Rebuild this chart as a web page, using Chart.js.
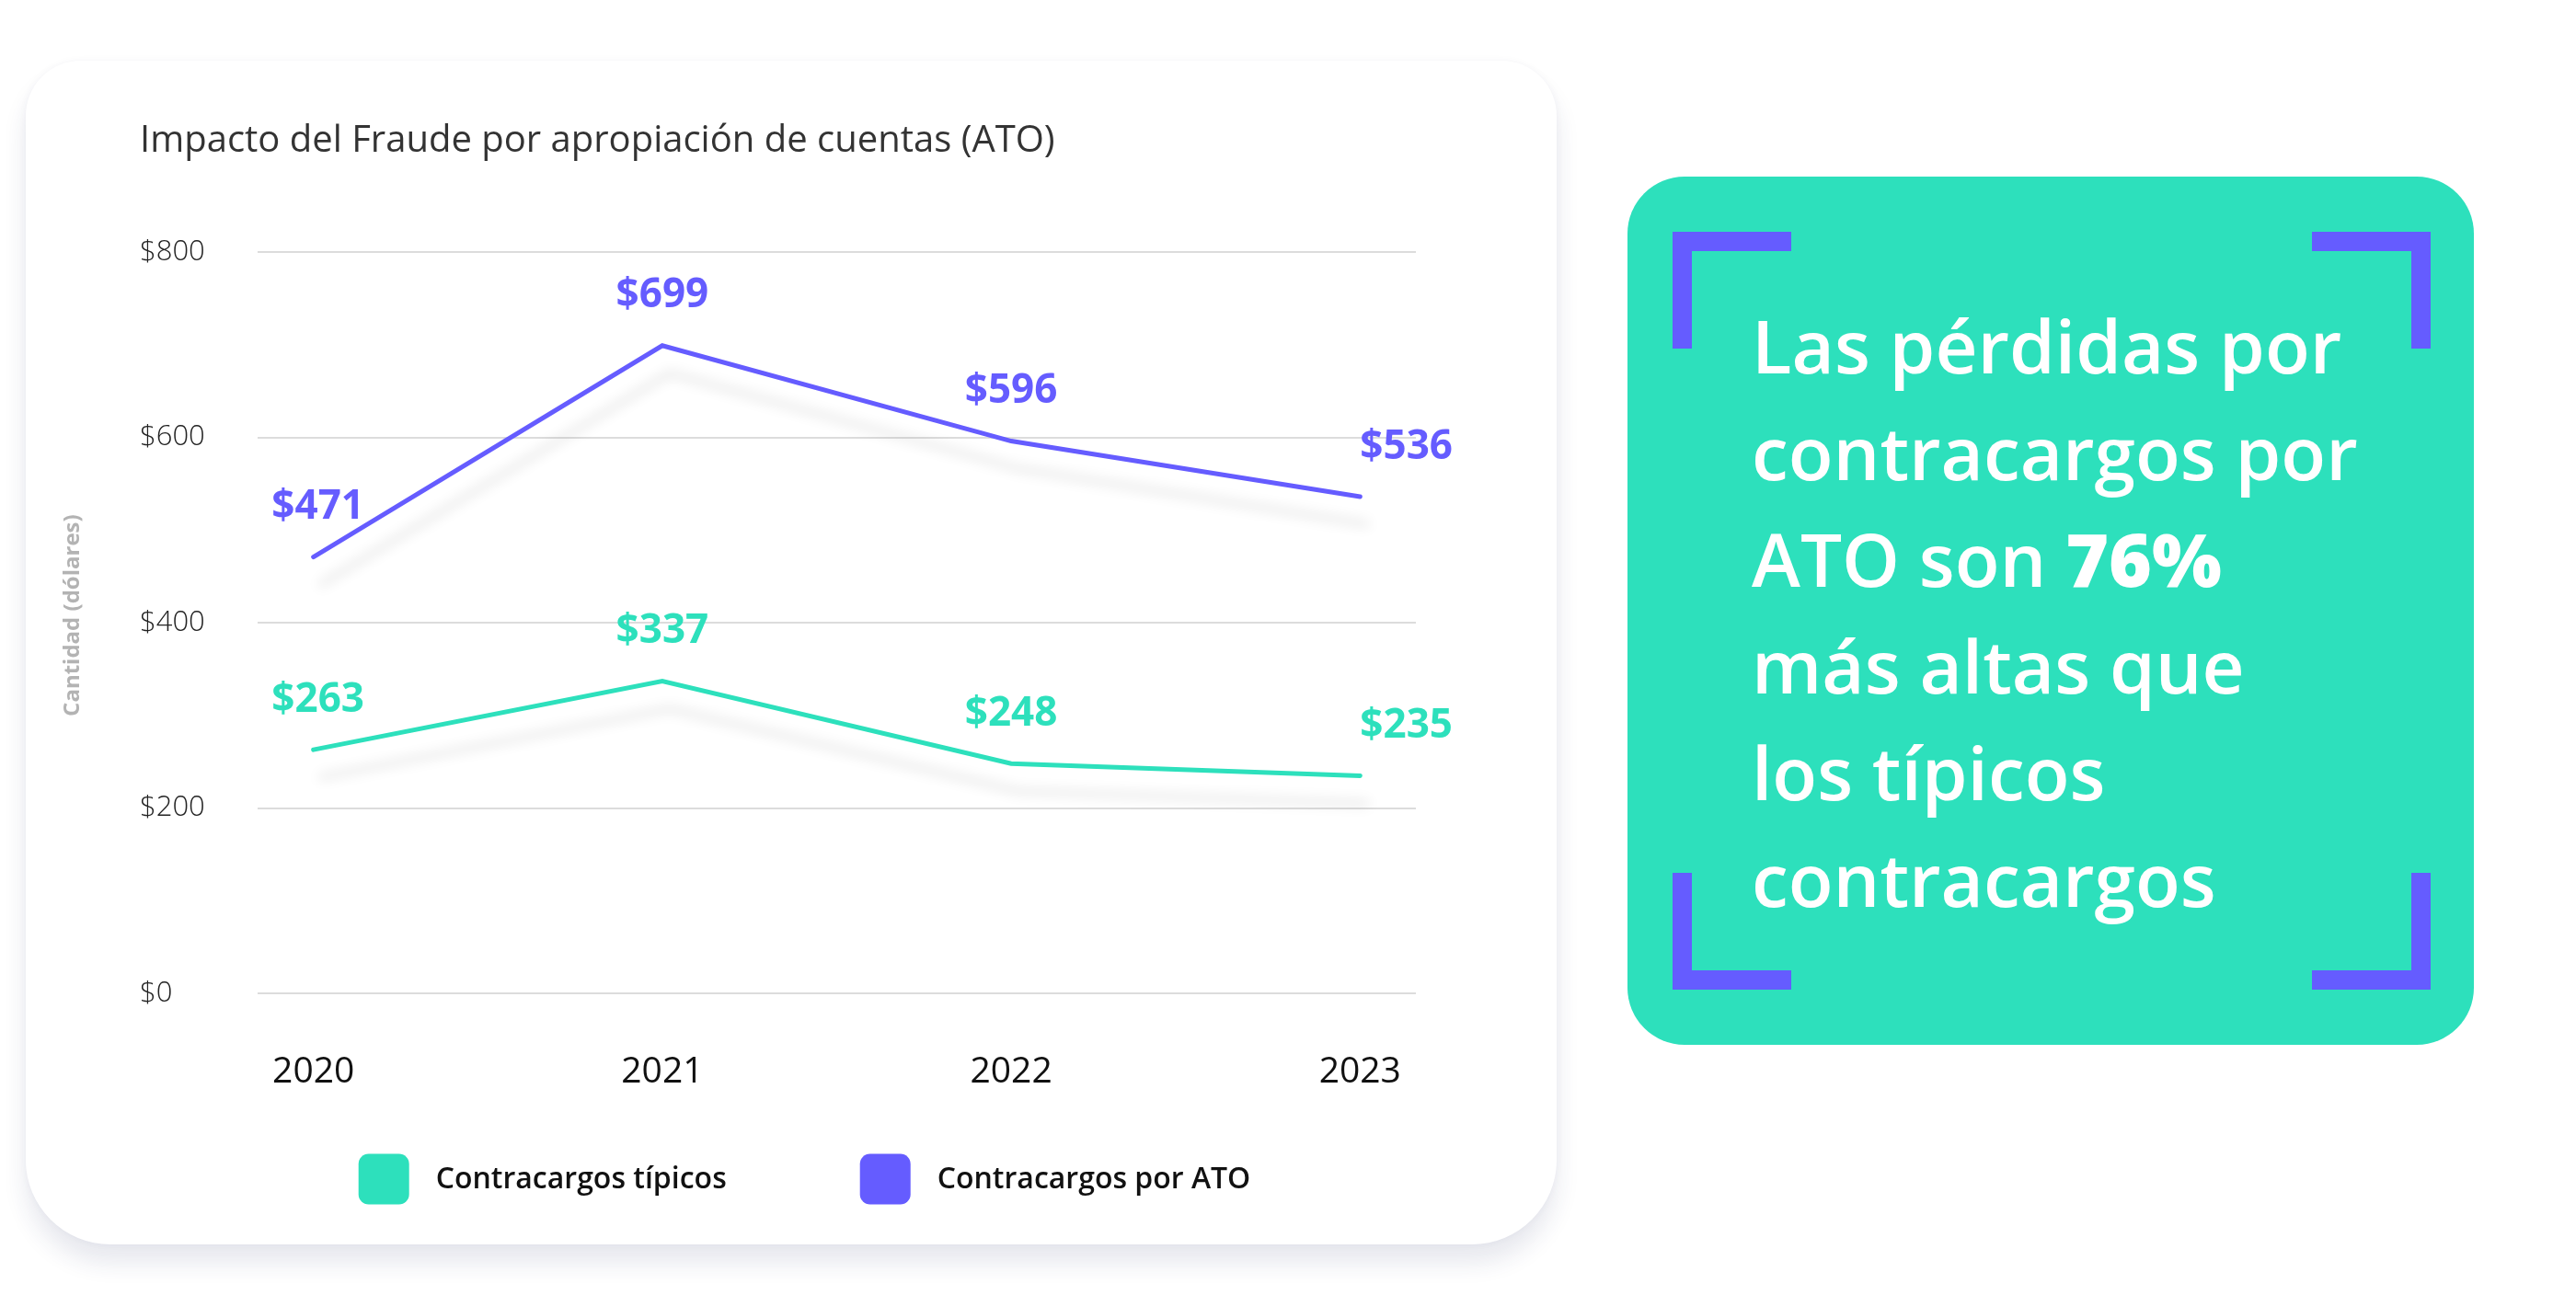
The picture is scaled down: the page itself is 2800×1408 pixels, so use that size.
<!DOCTYPE html>
<html lang="es">
<head>
<meta charset="utf-8">
<script src="https://cdn.jsdelivr.net/npm/chart.js@4.4.1/dist/chart.umd.min.js"></script>
<style>
  html, body { margin: 0; padding: 0; background: #ffffff; width: 2800px; height: 1408px; overflow: hidden; font-family: "Open Sans", sans-serif; }
  .card { position: absolute; left: 28px; top: 66px; width: 1664px; height: 1287px; background: #fff;
          border-radius: 60px 60px 92px 92px;
          box-shadow: 0 20px 26px rgba(40, 50, 100, 0.11), 0 0 8px rgba(40, 50, 100, 0.04); }
  #wrap { position: absolute; left: 0; top: 0; width: 1720px; height: 1408px; }
  .panel { position: absolute; left: 1769px; top: 192px; width: 920px; height: 944px; background: #2DE0BC; border-radius: 62px; }
  .br { position: absolute; width: 129px; height: 127px; box-sizing: border-box; border: 0 solid #655CFF; }
  .tl { left: 1818px; top: 252px; border-top-width: 21px; border-left-width: 21px; }
  .tr { left: 2513px; top: 252px; border-top-width: 21px; border-right-width: 21px; }
  .bl { left: 1818px; top: 949px; border-bottom-width: 21px; border-left-width: 21px; }
  .brr { left: 2513px; top: 949px; border-bottom-width: 21px; border-right-width: 21px; }
  .msg { position: absolute; left: 1904px; top: 317px; margin: 0; color: #fff; font-family: "Open Sans", sans-serif;
         font-weight: 600; font-size: 80px; line-height: 116px; white-space: nowrap; }
  .msg b { font-weight: 800; }
</style>
</head>
<body>
<div class="card"></div>
<div id="wrap"><canvas id="c" width="1720" height="1408"></canvas></div>
<div class="panel"></div>
<div class="br tl"></div><div class="br tr"></div><div class="br bl"></div><div class="br brr"></div>
<p class="msg">Las pérdidas por<br>contracargos por<br>ATO son <b>76%</b><br>más altas que<br>los típicos<br>contracargos</p>
<script>
// ---- data ----
const years = [2020, 2021, 2022, 2023];
const typical = [263, 337, 248, 235];
const ato = [471, 699, 596, 536];
const seriesNames = ['Contracargos típicos', 'Contracargos por ATO'];
const yTicks = [0, 200, 400, 600, 800];
const chartTitle = 'Impacto del Fraude por apropiación de cuentas (ATO)';
const yTitle = 'Cantidad (dólares)';

const GREEN = '#2DE0BC';
const PURPLE = '#655CFF';
const FONT = '"Open Sans", sans-serif';

const shadowPlugin = {
  id: 'lineShadow',
  beforeDatasetDraw(chart) {
    const ctx = chart.ctx;
    ctx.save();
    ctx.shadowColor = 'rgba(0,0,0,0.13)';
    ctx.shadowBlur = 14;
    ctx.shadowOffsetX = 8;
    ctx.shadowOffsetY = 30;
  },
  afterDatasetDraw(chart) { chart.ctx.restore(); }
};

const valueLabels = {
  id: 'valueLabels',
  afterDatasetsDraw(chart) {
    const ctx = chart.ctx;
    ctx.save();
    ctx.font = '700 44px ' + FONT;
    ctx.textBaseline = 'middle';
    chart.data.datasets.forEach((ds, di) => {
      const meta = chart.getDatasetMeta(di);
      meta.data.forEach((pt, i) => {
        ctx.fillStyle = ds.borderColor;
        ctx.textAlign = (i === meta.data.length - 1) ? 'left' : 'center';
        ctx.fillText('$' + ds.data[i].y, pt.x + (i === 0 ? 5 : 0), pt.y - 54);
      });
    });
    ctx.restore();
  }
};

const extras = {
  id: 'extras',
  afterDraw(chart) {
    const ctx = chart.ctx;
    const a = chart.chartArea;
    // y axis title
    ctx.save();
    ctx.translate(79, (a.top + a.bottom) / 2 - 8);
    ctx.rotate(-Math.PI / 2);
    ctx.font = '700 24px ' + FONT;
    ctx.fillStyle = '#b3b3b3';
    ctx.textAlign = 'center';
    ctx.textBaseline = 'middle';
    ctx.fillText(yTitle, 0, 0);
    ctx.restore();
    // legend
    ctx.save();
    ctx.font = '600 32px ' + FONT;
    ctx.textBaseline = 'middle';
    ctx.textAlign = 'left';
    const box = 55, gapText = 29, gapItem = 145;
    const items = chart.data.datasets.map(ds => ({ text: ds.label, color: ds.borderColor, w: ctx.measureText(ds.label).width }));
    const total = items.reduce((s, it) => s + box + gapText + it.w, 0) + gapItem * (items.length - 1);
    let x = (a.left + a.right) / 2 - total / 2 - 35;
    const cy = 1282;
    items.forEach(it => {
      ctx.fillStyle = it.color;
      ctx.beginPath();
      ctx.roundRect(x, cy - box / 2, box, box, 11);
      ctx.fill();
      ctx.fillStyle = '#111';
      ctx.fillText(it.text, x + box + gapText, cy + 1);
      x += box + gapText + it.w + gapItem;
    });
    ctx.restore();
  }
};

new Chart(document.getElementById('c'), {
  type: 'line',
  data: {
    datasets: [
      { label: seriesNames[0], data: years.map((y, i) => ({ x: y, y: typical[i] })), borderColor: GREEN, backgroundColor: GREEN },
      { label: seriesNames[1], data: years.map((y, i) => ({ x: y, y: ato[i] })), borderColor: PURPLE, backgroundColor: PURPLE }
    ]
  },
  options: {
    responsive: false,
    animation: false,
    devicePixelRatio: 1,
    elements: {
      line: { borderWidth: 5, tension: 0, borderCapStyle: 'round', borderJoinStyle: 'miter' },
      point: { radius: 0, hoverRadius: 0 }
    },
    layout: { padding: { left: 152, right: 181, top: 130, bottom: 157 } },
    plugins: {
      legend: { display: false },
      tooltip: { enabled: false },
      title: {
        display: true, text: chartTitle, align: 'start', color: '#333',
        font: { family: FONT, size: 40, weight: 400 },
        padding: { top: 0, bottom: 96 }
      }
    },
    scales: {
      x: {
        type: 'linear', min: years[0] - 0.16, max: years[years.length - 1] + 0.16,
        afterBuildTicks(s) { s.ticks = years.map(v => ({ value: v })); },
        grid: { display: false, drawTicks: false }, border: { display: false },
        ticks: { autoSkip: false, maxRotation: 0, padding: 62, color: '#111',
                 font: { family: FONT, size: 39, weight: 400 }, callback: v => String(v) }
      },
      y: {
        min: yTicks[0], max: yTicks[yTicks.length - 1],
        afterBuildTicks(s) { s.ticks = yTicks.map(v => ({ value: v })); },
        afterFit(s) { s.width = 128; },
        grid: { color: '#dcdcdc', lineWidth: 2, drawTicks: false }, border: { display: false },
        ticks: { crossAlign: 'far', padding: 0, color: '#222',
                 font: { family: FONT, size: 31, weight: 300 }, callback: v => '$' + v }
      }
    }
  },
  plugins: [shadowPlugin, valueLabels, extras]
});
</script>
</body>
</html>
